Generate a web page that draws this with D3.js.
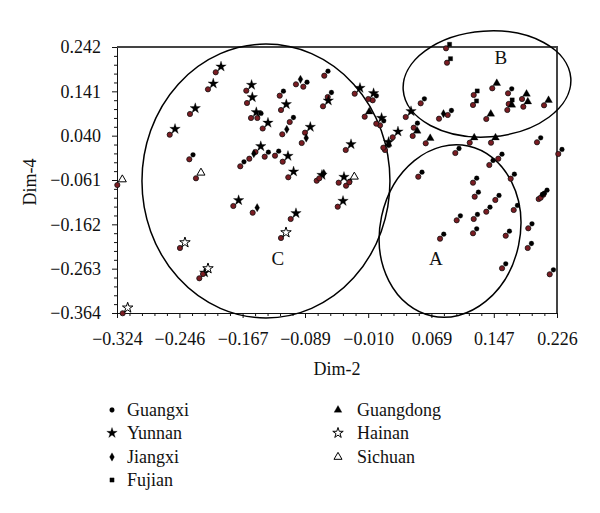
<!DOCTYPE html>
<html><head><meta charset="utf-8">
<script src="https://cdn.jsdelivr.net/npm/d3@7"></script>
<style>body{margin:0;background:#fff;} svg{display:block;} text{font-family:"Liberation Serif","DejaVu Serif",serif;}</style>
</head><body><svg id="c" width="600" height="513"></svg>
<script>
// ---- data (Dim-2, Dim-4) ----
const guangxi = [[-0.1486,0.0803],[-0.2336,-0.0138],[-0.1699,-0.0298],[-0.0649,0.1766],[-0.0911,0.1516],[-0.1206,0.1311],[-0.0606,0.1281],[-0.0044,0.1206],[-0.1081,0.0711],[0.0048,0.0636],[0.011,0.0074],[-0.1265,-0.0056],[-0.1394,-0.0079],[-0.0377,-0.074],[0.1648,0.1365],[0.0556,0.1137],[0.0894,0.0871],[0.0469,0.0582],[0.201,0.0249],[0.2276,-0.0017],[0.0989,0.0005],[0.1526,-0.0125],[0.1414,-0.0268],[0.0526,-0.0535],[0.121,-0.0671],[0.1681,-0.058],[0.1231,-0.099],[0.1489,-0.1065],[0.2031,-0.1043],[0.2056,-0.1013],[0.2089,-0.0945],[0.1719,-0.1293],[0.1376,-0.1332],[0.1006,-0.1528],[0.1219,-0.1498],[0.1901,-0.171],[0.1619,-0.1879],[0.0798,-0.1947],[0.121,-0.1824],[0.1894,-0.2159],[0.1573,-0.2621],[0.2169,-0.2758]];
const yunnan = [[-0.2006,0.1844],[-0.2103,0.1456],[-0.1624,0.1425],[-0.1615,0.1144],[-0.2328,0.0894],[-0.1565,0.0803],[-0.1419,0.0563],[-0.2581,0.0422],[-0.1509,0.0028],[-0.119,0.0985],[-0.0269,0.1356],[-0.0665,0.1069],[-0.0099,0.1235],[0.0001,0.0673],[-0.089,0.0468],[0.0206,0.0363],[0.0089,0.0126],[-0.0381,0.0074],[-0.1169,-0.0193],[-0.1099,-0.0548],[-0.0744,-0.0626],[-0.0469,-0.0671],[-0.0481,-0.1218],[-0.1069,-0.1498],[-0.1786,-0.1202],[-0.2211,-0.2849],[0.0369,0.0825]];
const jiangxi = [[-0.1586,-0.0125],[-0.1003,0.157],[-0.0931,0.0233],[-0.1174,0.0431],[-0.0711,-0.0571],[-0.1544,-0.1355],[0.0785,0.0787]];
const fujian = [[0.0873,0.239],[0.0885,0.2062],[0.1219,0.1327],[0.121,0.1099],[0.1656,0.1122]];
const guangdong = [[-0.0144,0.0832],[0.1451,0.1479],[0.1823,0.1235],[0.1639,0.0985],[0.1839,0.106],[0.2098,0.1092],[0.1376,0.078],[0.0456,0.0393],[0.0619,0.0226],[0.1169,0.024],[0.1435,0.024]];
const hainan = [[-0.119,-0.1931],[-0.2453,-0.2159],[-0.2165,-0.2751],[-0.3169,-0.3646]];
const sichuan = [[-0.0336,-0.0662],[-0.2253,-0.0571],[-0.3236,-0.0724]];

const provinces = ["Guangxi","Yunnan","Jiangxi","Fujian","Guangdong","Hainan","Sichuan"];
const xTicks = [-0.324,-0.246,-0.167,-0.089,-0.010,0.069,0.147,0.226];
const xTickLabels = ["−0.324","−0.246","−0.167","−0.089","−0.010","0.069","0.147","0.226"];
const yTicks = [0.242,0.141,0.040,-0.061,-0.162,-0.263,-0.364];
const yTickLabels = ["0.242","0.141","0.040","−0.061","−0.162","−0.263","−0.364"];
// cluster ellipses: [label, cx, cy, rx, ry (data units), rotation deg]
const clusterNames = ["C","A","B"];
const clusterEllipses = [[-0.1378,-0.0633,0.155,0.312,0],[0.0923,-0.1772,0.0875,0.198,12],[0.1385,0.1577,0.105,0.1207,-4]];
const clusterLabelPos = [[-0.123,-0.2547],[0.0747,-0.2547],[0.1559,0.2035]];

const seriesData = [guangxi,yunnan,jiangxi,fujian,guangdong,hainan,sichuan];
const symbolTypes = [d3.symbolCircle,d3.symbolStar,d3.symbolDiamond,d3.symbolSquare,d3.symbolTriangle,d3.symbolStar,d3.symbolTriangle];
const symbolSizes = [18,34,20,18,26,34,28];
const symbolFill = ["#000","#000","#000","#000","#000","#fff","#fff"];
const symbolOff = [[3.7,-4.5],[5.3,-5.7],[4.5,-5],[3.5,-4],[4.5,-5],[5,-5.5],[5,-5.5]];

const svg = d3.select("#c");
const L=117,R=557,T=47,B=313;
const x = d3.scaleLinear().domain([-0.324,0.226]).range([L,R]);
const y = d3.scaleLinear().domain([-0.364,0.242]).range([B,T]);

function minor(ticks){const out=[];for(let i=0;i<ticks.length-1;i++){const a=ticks[i],b=ticks[i+1];for(let k=1;k<5;k++)out.push(a+(b-a)*k/5);}return out;}

// minor ticks
svg.append("g").attr("transform",`translate(0,${B})`).call(d3.axisBottom(x).tickValues(minor(xTicks)).tickSize(3).tickFormat("")).call(g=>g.select(".domain").remove());
svg.append("g").attr("transform",`translate(${L},0)`).call(d3.axisLeft(y).tickValues(minor(yTicks)).tickSize(3).tickFormat("")).call(g=>g.select(".domain").remove());
// major axes
const xa = svg.append("g").attr("transform",`translate(0,${B})`).call(d3.axisBottom(x).tickValues(xTicks).tickSize(5).tickSizeOuter(0).tickPadding(14).tickFormat((d,i)=>xTickLabels[i]));
const ya = svg.append("g").attr("transform",`translate(${L},0)`).call(d3.axisLeft(y).tickValues(yTicks).tickSize(5).tickSizeOuter(0).tickPadding(11).tickFormat((d,i)=>yTickLabels[i]));
svg.selectAll(".tick text").attr("font-size",18).attr("fill","#111").style("font-family","Liberation Serif");
svg.selectAll(".domain,.tick line").attr("stroke","#111");
// frame top/right
svg.append("path").attr("d",`M${L},${T}H${R}V${B}`).attr("fill","none").attr("stroke","#444").attr("stroke-width",2);

// ellipses
clusterEllipses.forEach((e,i)=>{
  const cx=x(e[0]),cy=y(e[1]),rx=x(e[2])-x(0),ry=y(0)-y(e[3]);
  svg.append("ellipse").attr("cx",cx).attr("cy",cy).attr("rx",rx).attr("ry",ry)
    .attr("transform",`rotate(${e[4]},${cx},${cy})`).attr("fill","none").attr("stroke","#000").attr("stroke-width",1.5);
  svg.append("text").attr("x",x(clusterLabelPos[i][0])).attr("y",y(clusterLabelPos[i][1])).attr("text-anchor","middle").attr("font-size",19).attr("fill","#111").text(clusterNames[i]);
});

// points: red circle + province symbol
seriesData.forEach((arr,si)=>{
  const g=svg.append("g");
  g.selectAll("circle").data(arr).join("circle").attr("cx",d=>x(d[0])).attr("cy",d=>y(d[1])).attr("r",2.6)
    .attr("fill","#7a1c22").attr("stroke","#111").attr("stroke-width",0.8);
  g.selectAll("path").data(arr).join("path")
    .attr("d",d3.symbol().type(symbolTypes[si]).size(symbolSizes[si]))
    .attr("transform",d=>`translate(${x(d[0])+symbolOff[si][0]},${y(d[1])+symbolOff[si][1]})`)
    .attr("fill",symbolFill[si]).attr("stroke","#000").attr("stroke-width",si>=5?1:0.3);
});

// axis titles
svg.append("text").attr("x",(L+R)/2).attr("y",375).attr("text-anchor","middle").attr("font-size",18).attr("fill","#111").text("Dim-2");
svg.append("text").attr("transform","translate(36,182) rotate(-90)").attr("text-anchor","middle").attr("font-size",18).attr("fill","#111").text("Dim-4");

// legend
const legX=[112,338], legTX=[127,357], legY=[410,433,457,480];
provinces.forEach((p,i)=>{
  const col=i<4?0:1,row=i<4?i:i-4;
  svg.append("path").attr("d",d3.symbol().type(symbolTypes[i]).size(symbolSizes[i]))
    .attr("transform",`translate(${legX[col]},${legY[row]})`).attr("fill",symbolFill[i]).attr("stroke","#000").attr("stroke-width",i>=5?1:0.3);
  svg.append("text").attr("x",legTX[col]).attr("y",legY[row]+6).attr("font-size",18).attr("fill","#111").text(p);
});
</script></body></html>
